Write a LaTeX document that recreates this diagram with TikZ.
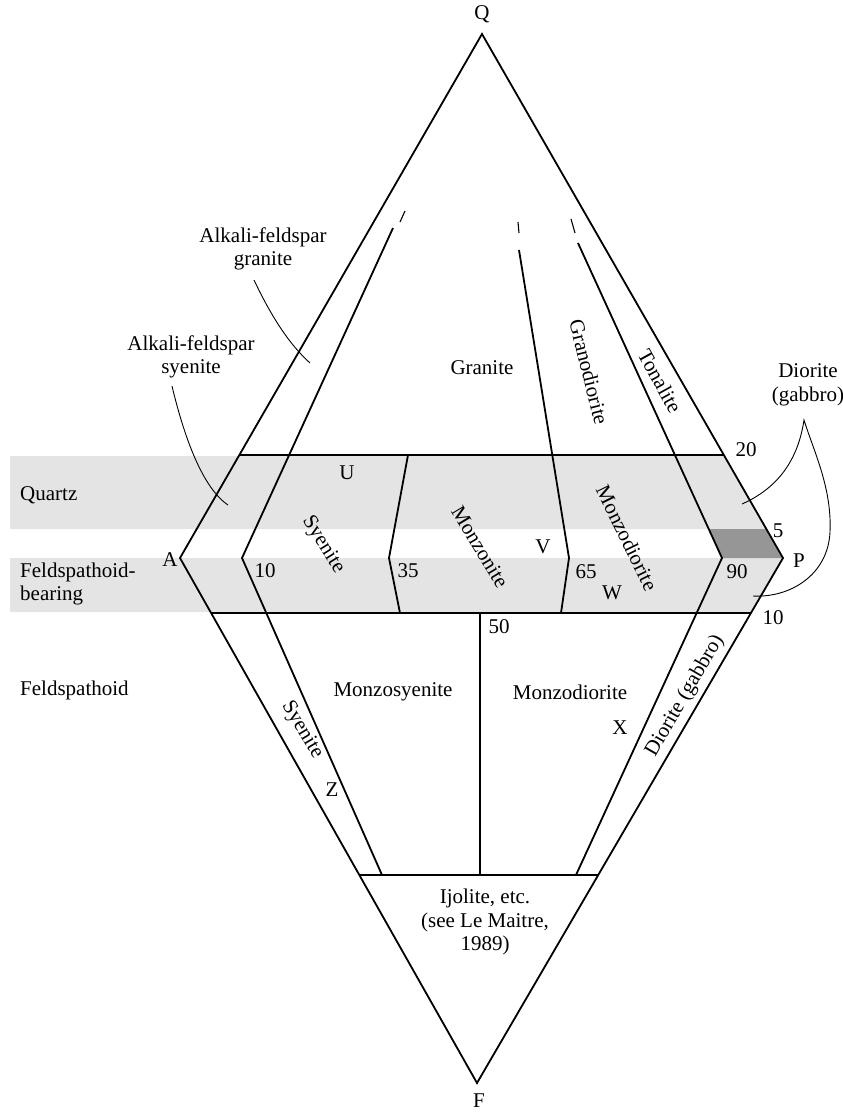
\documentclass[tikz,border=0pt]{standalone}
\usepackage{fontspec}
\setmainfont{Liberation Serif}
\definecolor{bandgray}{RGB}{228,228,228}
\definecolor{darkband}{RGB}{150,150,150}
\tikzset{
  edgeline/.style={line width=1.8pt, line join=miter},
  tickline/.style={line width=1.1pt},
  leader/.style={line width=0.9pt},
  lbl/.style={inner sep=0pt, font=\fontsize{21}{23.5}\selectfont, align=center},
  lbll/.style={inner sep=0pt, font=\fontsize{21}{23.5}\selectfont, align=left, anchor=west}
}
\begin{document}
\begin{tikzpicture}[x=1pt,y=-1pt]
\useasboundingbox (0,0) rectangle (843,1112);
% corners
\coordinate (Q) at (482,34);
\coordinate (A) at (180,558);
\coordinate (P) at (783,558);
\coordinate (F) at (477,1083);
% bands
\fill[bandgray] (10,456) -- (724.4,456) -- (766.3,529) -- (10,529) -- cycle;
\fill[bandgray] (10,558) -- (783,558) -- (751.5,612) -- (10,612) -- cycle;
\fill[darkband] (708.7,529) -- (766.3,529) -- (783,558) -- (722,558) -- cycle;
% outline
\draw[edgeline] (Q) -- (A) -- (F) -- (P) -- cycle;
% horizontal boundaries
\coordinate (h20a) at (239.4,455); \coordinate (h20b) at (723.8,455);
\coordinate (h10a) at (211.1,613); \coordinate (h10b) at (750.9,613);
\coordinate (h60a) at (359.3,875); \coordinate (h60b) at (598.2,875);
\draw[edgeline] (h20a) -- (h20b);
\draw[edgeline] (h10a) -- (h10b);
\draw[edgeline] (h60a) -- (h60b);
% line 1 (10 %)
\coordinate (l1t) at (393,228); \coordinate (l1m) at (242,558); \coordinate (l1b) at (382,875);
\draw[edgeline] (l1t) -- (l1m) -- (l1b);
% line 2 (35 %)
\coordinate (l2t) at (408,455); \coordinate (l2m) at (389,558); \coordinate (l2b) at (400,613);
\draw[edgeline] (l2t) -- (l2m) -- (l2b);
% line 3 (65 %)
\coordinate (l3t) at (519,250); \coordinate (l3m) at (569,558); \coordinate (l3b) at (561,613);
\draw[edgeline] (l3t) -- (l3m) -- (l3b);
% line 4 (90 %)
\coordinate (l4t) at (578,243); \coordinate (l4m) at (722,558); \coordinate (l4b) at (576,875);
\draw[edgeline] (l4t) -- (l4m) -- (l4b);
% 50 % line
\coordinate (c50t) at (480,613); \coordinate (c50b) at (480,875);
\draw[line width=1.2pt] (c50t) -- (c50b);
% small ticks above the gaps
\coordinate (t1a) at (400,222); \coordinate (t1b) at (405,211);
\coordinate (t2a) at (518,222); \coordinate (t2b) at (519,233);
\coordinate (t3a) at (571,219); \coordinate (t3b) at (575,233);
\draw[tickline] (t1a) -- (t1b);
\draw[tickline] (t2a) -- (t2b);
\draw[tickline] (t3a) -- (t3b);
% corner labels
\node[lbl] (labQ) at (482,14) {Q};
\node[lbl] (labA) at (170,560) {A};
\node[lbl] (labP) at (799,561) {P};
\node[lbl] (labF) at (479,1101) {F};
% left column labels
\node[lbll] (quartz) at (20,495) {Quartz};
\node[lbll] (fbear) at (20,584) {Feldspathoid-\\bearing};
\node[lbll] (feld) at (20,690) {Feldspathoid};
% alkali-feldspar labels and leaders
\node[lbl] (afg) at (263,249) {Alkali-feldspar\\granite};
\node[lbl] (afs) at (191,357) {Alkali-feldspar\\syenite};
\coordinate (afgend) at (310,363);
\coordinate (afsend) at (228,505);
\draw[leader] (254,280) .. controls (272,318) and (290,345) .. (afgend);
\draw[leader] (172,386) .. controls (182,428) and (200,486) .. (afsend);
% field names
\node[lbl] (granite) at (482,368) {Granite};
\node[lbl, rotate=-76] (grano) at (589,372) {Granodiorite};
\node[lbl, rotate=-61] (tonal) at (660,381) {Tonalite};
\node[lbl, rotate=-58] (sye1) at (323,545) {Syenite};
\node[lbl, rotate=-59] (monz) at (480,547) {Monzonite};
\node[lbl, rotate=-64] (monzd1) at (627,538) {Monzodiorite};
\node[lbl] (monzsy) at (393,692) {Monzosyenite};
\node[lbl] (monzd2) at (570,692) {Monzodiorite};
\node[lbl, rotate=-59] (sye2) at (302,730) {Syenite};
\node[lbl, rotate=60] (dior2) at (685,696) {Diorite (gabbro)};
\node[lbl] (ijol) at (485,922) {Ijolite, etc.\\(see Le Maitre,\\1989)};
% letters
\node[lbl] (U) at (347,473) {U};
\node[lbl] (V) at (543,547) {V};
\node[lbl] (W) at (612,593) {W};
\node[lbl] (X) at (620,728) {X};
\node[lbl] (Z) at (332,790) {Z};
% numbers
\node[lbl] (n10a) at (265,571) {10};
\node[lbl] (n35) at (408,571) {35};
\node[lbl] (n65) at (586,572) {65};
\node[lbl] (n90) at (737,572) {90};
\node[lbl] (n20) at (746,450) {20};
\node[lbl] (n5) at (778,531) {5};
\node[lbl] (n10b) at (773,618) {10};
\node[lbl] (n50) at (499,627) {50};
% diorite (gabbro) label and teardrop leader
\node[lbl] (dior1) at (808,385) {Diorite\\(gabbro)};
\coordinate (dpeak) at (804,420);
\coordinate (dq) at (742,504);
\coordinate (df) at (753,596);
\draw[leader] (dq) .. controls (778,488) and (798,460) .. (dpeak)
  .. controls (814,452) and (832,488) .. (830,532)
  .. controls (828,575) and (790,598) .. (df);
\end{tikzpicture}
\end{document}
